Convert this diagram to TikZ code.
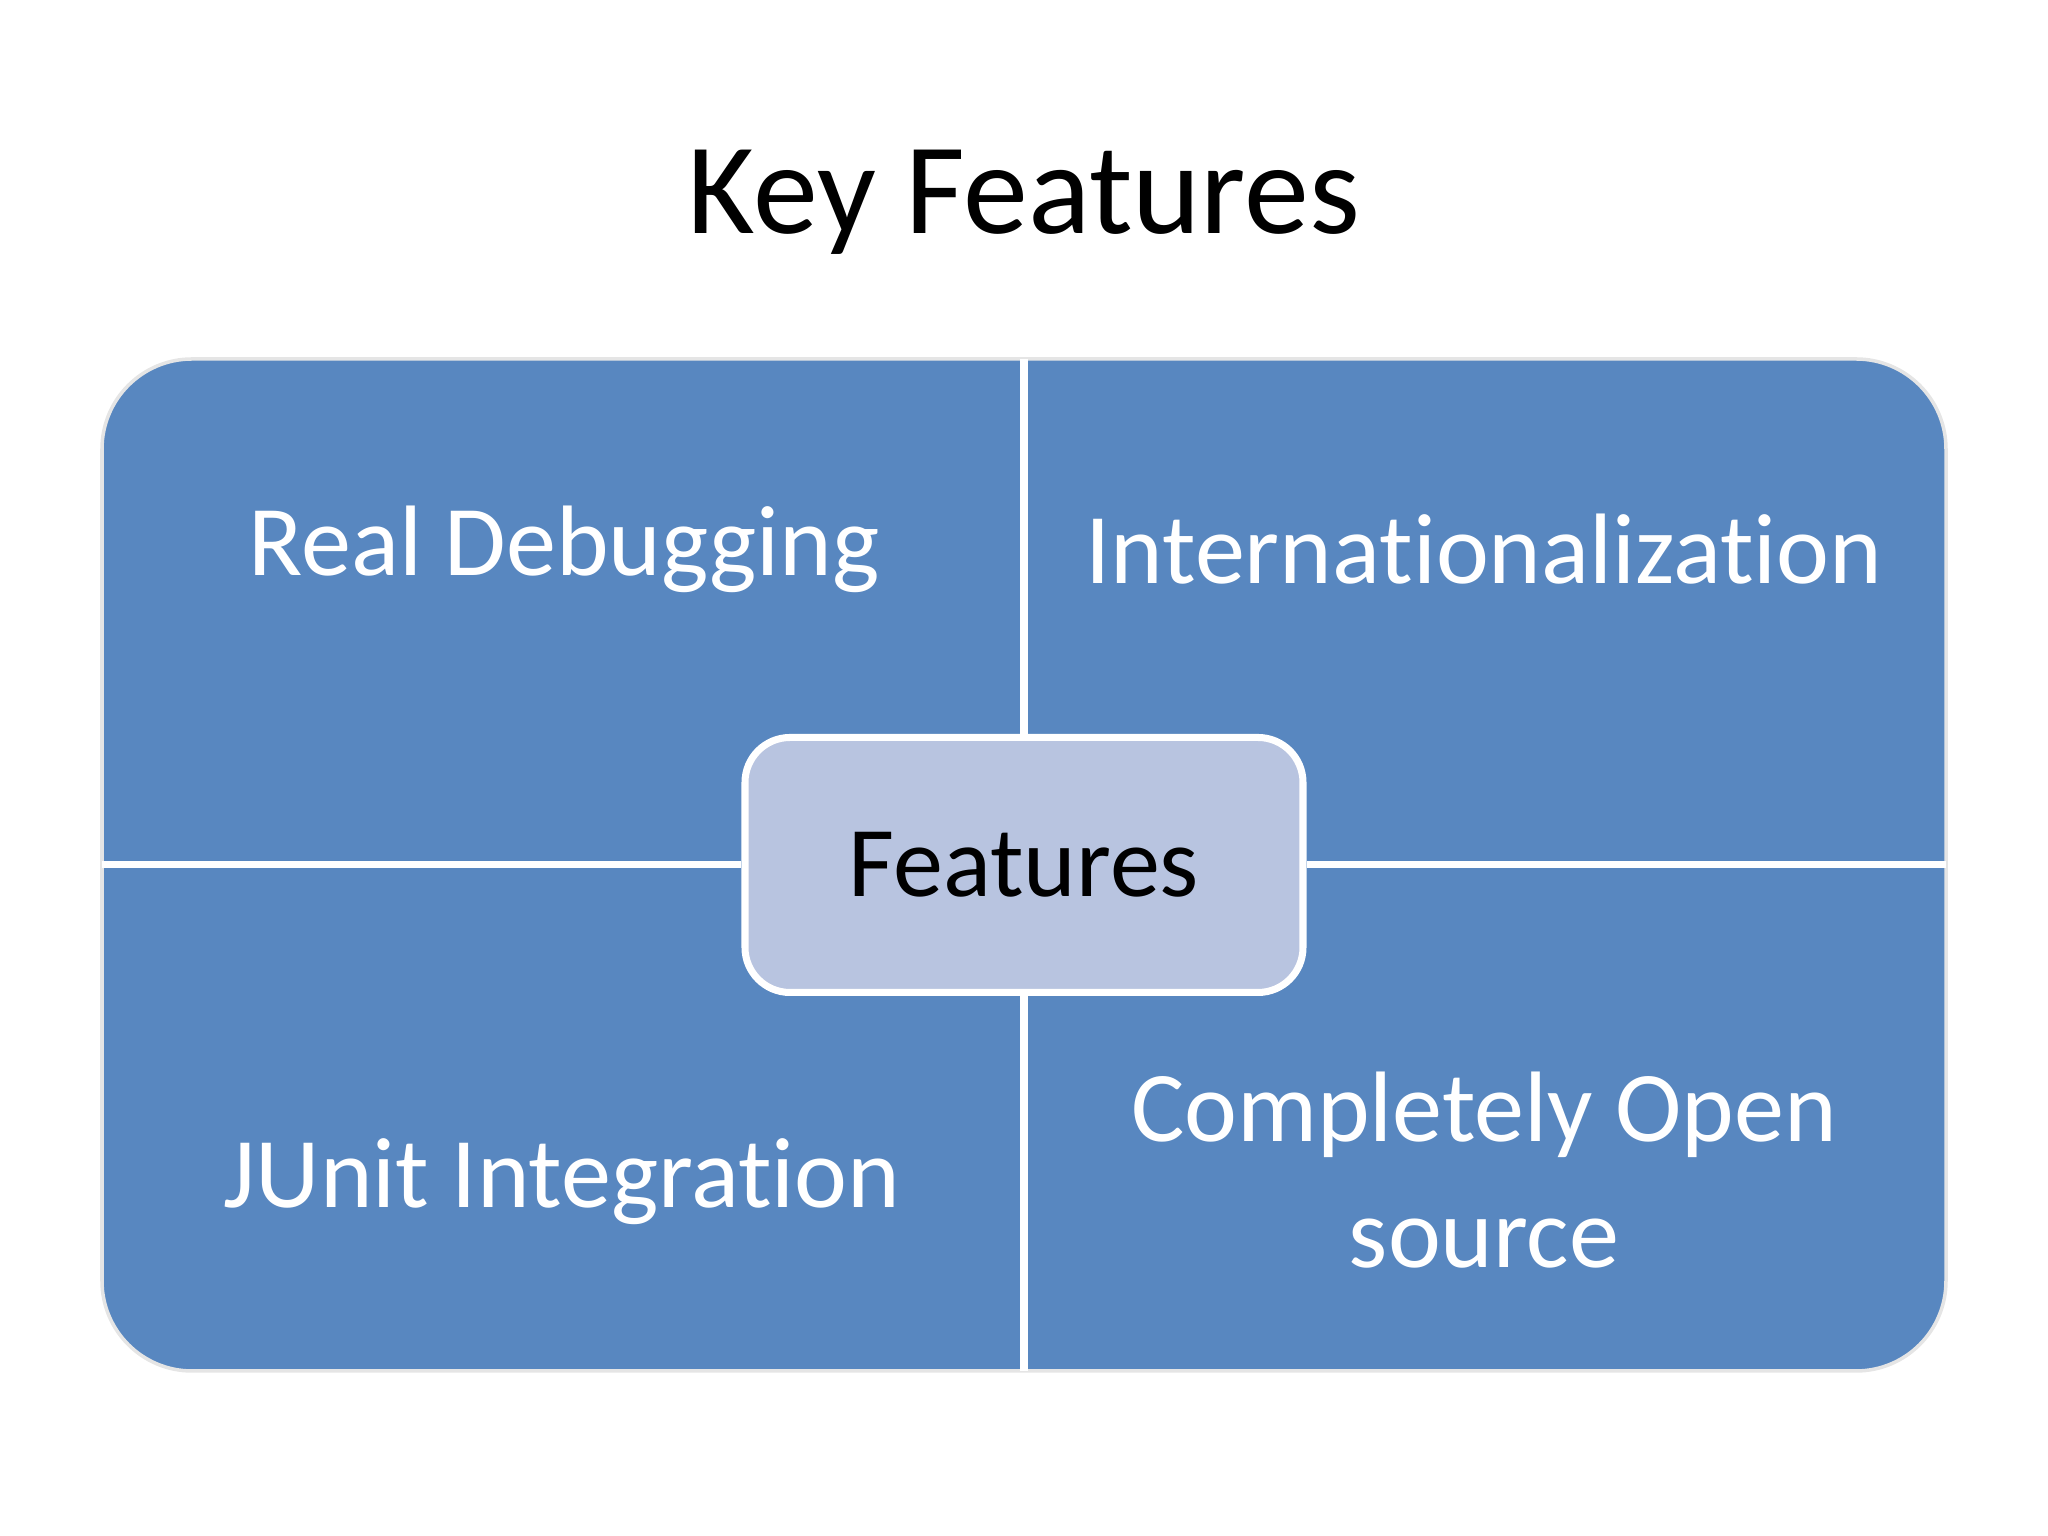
\documentclass[tikz,border=0pt]{standalone}
\usepackage{fontspec}
\setmainfont{Carlito}[Ligatures={NoCommon,TeX}]
\usetikzlibrary{positioning,calc}
\definecolor{quadblue}{HTML}{5887C0}
\definecolor{hubblue}{HTML}{B8C4E0}
\begin{document}
\begin{tikzpicture}
		\tikzset{quad/.style={text=white, font=\fontsize{28.5}{36}\selectfont, align=center},
			divider/.style={white, line width=2pt}}
		\useasboundingbox (0,0) rectangle (20.48,15.36);
		\node (title) at (10.24,13.34) {\fontsize{37}{44}\selectfont Key Features};
		\draw[fill=quadblue, draw=white!90!black, line width=1pt, rounded corners=0.9cm] (1.02,1.65) rectangle (19.46,11.77);
		\coordinate (top) at (10.24,11.77);
		\coordinate (bottom) at (10.24,1.65);
		\coordinate (left) at (1.02,6.71);
		\coordinate (right) at (19.46,6.71);
		\node[draw=white, line width=2pt, fill=hubblue, rounded corners=0.45cm, minimum width=5.58cm, minimum height=2.55cm, font=\fontsize{28.5}{36}\selectfont] (hub) at (10.24,6.71) {Features};
		\draw[divider] (top) -- (hub.north);
		\draw[divider] (bottom) -- (hub.south);
		\draw[divider] (left) -- (hub.west);
		\draw[divider] (right) -- (hub.east);

		\node[quad] (debug) at (5.64,9.87) {Real Debugging};
		\node[quad] (intl) at (14.84,9.87) {Internationalization};
		\node[quad] (junit) at (5.62,3.54) {JUnit Integration};
		\node[quad] (open) at (14.84,3.66) {Completely Open\\source};
	\end{tikzpicture}
\end{document}
